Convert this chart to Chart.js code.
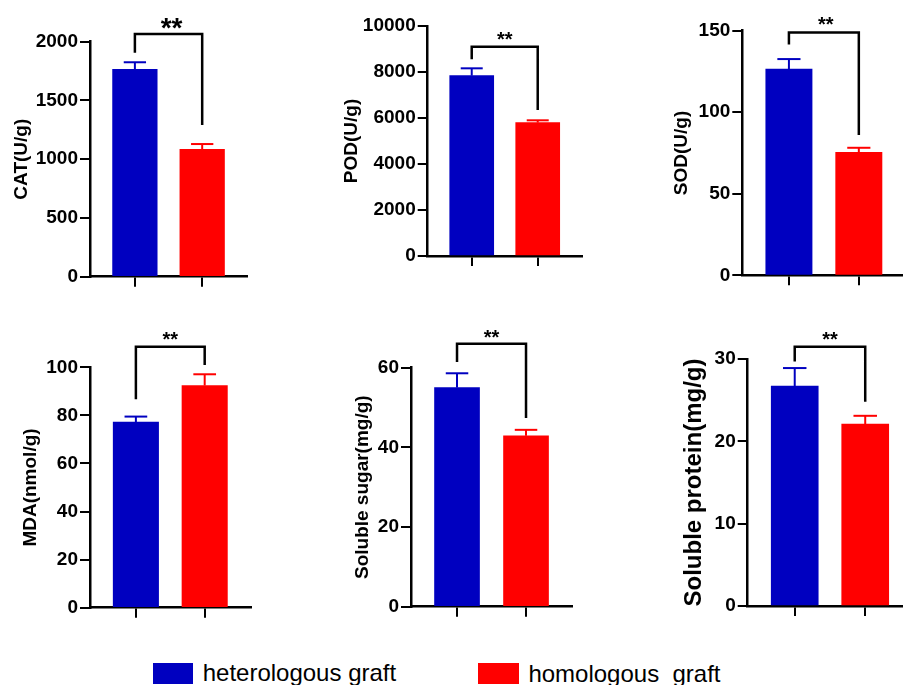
<!DOCTYPE html>
<html><head><meta charset="utf-8">
<script src="https://cdn.jsdelivr.net/npm/chart.js@4.4.1/dist/chart.umd.min.js"></script>
<style>
html,body{margin:0;padding:0;background:#fff;width:903px;height:685px;overflow:hidden;position:relative;font-family:"Liberation Sans",Arial,sans-serif}
canvas{position:absolute}
.sw{position:absolute}
.lt{position:absolute;font-size:24px;line-height:24px;color:#000;white-space:pre}
</style></head><body>
<script>
// ---- data ----
const categories = ['heterologous graft', 'homologous  graft'];
const panelTitles = ['CAT(U/g)', 'POD(U/g)', 'SOD(U/g)', 'MDA(nmol/g)', 'Soluble sugar(mg/g)', 'Soluble protein(mg/g)'];
const catValues = [1765, 1084];
const catErrors = [60, 45];
const podValues = [7840, 5800];
const podErrors = [320, 100];
const sodValues = [126.5, 75.4];
const sodErrors = [6.1, 2.8];
const mdaValues = [77.2, 92.4];
const mdaErrors = [2.3, 4.7];
const sugarValues = [55.0, 42.9];
const sugarErrors = [3.6, 1.5];
const proteinValues = [26.7, 22.1];
const proteinErrors = [2.2, 1.0];
const yMaxes = [2000, 10000, 150, 100, 60, 30];
const yTickSteps = [500, 2000, 50, 20, 20, 10];
const sigLabels = ['**', '**', '**', '**', '**', '**'];
const bracketTops = [2066, 9100, 148.9, 108.6, 66, 31.5];
const bracketLegEnds = [[1906, 1291], [8552, 6348], [141.6, 86], [86.7, 101], [61.4, 47.4], [29.7, 24.8]];

const seriesValues = [catValues, podValues, sodValues, mdaValues, sugarValues, proteinValues];
const seriesErrors = [catErrors, podErrors, sodErrors, mdaErrors, sugarErrors, proteinErrors];

// ---- styles / layout ----
const colors = ['#0000C0', '#FF0000'];
const FONT = '"Liberation Sans", Arial, sans-serif';
const layout = [
  {L:0,   T:0,   W:260, H:300, axisX:90,    top:41.7,  bottom:276.7, unit:67.3, bar:44.6, titleC:21.7,  titleSize:19, starSize:28, starGap:12, starDx:3},
  {L:300, T:0,   W:290, H:300, axisX:427.7, top:26,    bottom:256,   unit:66,   bar:44,   titleC:352,   titleSize:19, starSize:20, starGap:12, starDx:0},
  {L:600, T:0,   W:320, H:300, axisX:742.3, top:30.7,  bottom:275.3, unit:69.9, bar:46.3, titleC:681.7, titleSize:19, starSize:20, starGap:12.5, starDx:2},
  {L:0,   T:310, W:260, H:320, axisX:90,    top:367.3, bottom:607.7, unit:68.8, bar:45.4, titleC:30.5,  titleSize:19, starSize:20, starGap:12, starDx:0},
  {L:300, T:310, W:290, H:320, axisX:411,   top:367.7, bottom:606.7, unit:69,   bar:45,   titleC:363,   titleSize:19, starSize:20, starGap:10.5, starDx:0},
  {L:600, T:310, W:320, H:320, axisX:747.7, top:359,   bottom:606,   unit:70.5, bar:47,   titleC:694.5, titleSize:24, starSize:20, starGap:12, starDx:0}
];
const X_MIN = -0.667, X_MAX = 1.667, X_AXIS_H = 15;

const overlay = {
  id: 'overlay',
  afterDatasetsDraw(chart, args, o) {
    const {ctx} = chart; const x = chart.scales.x, y = chart.scales.y;
    const k = o.k, lay = layout[k];
    ctx.save();
    seriesValues[k].forEach((v, i) => {
      const px = x.getPixelForValue(i);
      const y0 = y.getPixelForValue(v), y1 = y.getPixelForValue(v + seriesErrors[k][i]);
      ctx.strokeStyle = colors[i];
      ctx.lineWidth = 2;
      ctx.beginPath(); ctx.moveTo(px, y0); ctx.lineTo(px, y1); ctx.stroke();
      const hw = lay.bar / 4;
      ctx.beginPath(); ctx.moveTo(px - hw, y1); ctx.lineTo(px + hw, y1); ctx.stroke();
    });
    const xl = x.getPixelForValue(0), xr = x.getPixelForValue(1);
    const yt = y.getPixelForValue(bracketTops[k]);
    ctx.strokeStyle = '#000'; ctx.lineWidth = 2.5; ctx.lineJoin = 'miter'; ctx.lineCap = 'butt';
    ctx.beginPath();
    ctx.moveTo(xl, y.getPixelForValue(bracketLegEnds[k][0]));
    ctx.lineTo(xl, yt); ctx.lineTo(xr, yt);
    ctx.lineTo(xr, y.getPixelForValue(bracketLegEnds[k][1]));
    ctx.stroke();
    ctx.fillStyle = '#000';
    ctx.font = 'bold ' + lay.starSize + 'px ' + FONT;
    ctx.textAlign = 'center'; ctx.textBaseline = 'alphabetic';
    ctx.fillText(sigLabels[k], (xl + xr) / 2 + lay.starDx, yt - lay.starGap + 0.55 * lay.starSize);
    ctx.restore();
  }
};

layout.forEach((lay, k) => {
  const cv = document.createElement('canvas');
  cv.width = lay.W; cv.height = lay.H;
  cv.style.left = lay.L + 'px'; cv.style.top = lay.T + 'px';
  cv.style.width = lay.W + 'px'; cv.style.height = lay.H + 'px';
  document.body.appendChild(cv);
  const yW = lay.axisX - lay.L;
  const plotW = (X_MAX - X_MIN) * lay.unit;
  const padRight = lay.W - yW - plotW;
  const padTop = lay.top - lay.T;
  const padBottom = lay.H - (lay.bottom - lay.T) - X_AXIS_H;
  const lineH = lay.titleSize * 1.2;
  new Chart(cv, {
    type: 'bar',
    data: {
      datasets: [{
        data: seriesValues[k].map((v, i) => ({x: i, y: v})),
        backgroundColor: colors,
        borderWidth: 0,
        barThickness: lay.bar
      }]
    },
    options: {
      responsive: false, animation: false, devicePixelRatio: 1,
      layout: {padding: {left: 0, top: padTop, right: padRight, bottom: padBottom}},
      plugins: {legend: {display: false}, tooltip: {enabled: false}, overlay: {k: k}},
      scales: {
        x: {
          type: 'linear', min: X_MIN, max: X_MAX, offset: false,
          afterBuildTicks: s => { s.ticks = [{value: 0}, {value: 1}]; },
          afterFit: s => { s.height = X_AXIS_H; },
          grid: {offset: false, drawOnChartArea: false, drawTicks: true, tickLength: 10, color: '#000', lineWidth: 2},
          border: {display: true, color: '#000', width: 2.5},
          ticks: {callback: () => '', padding: 0}
        },
        y: {
          min: 0, max: yMaxes[k],
          afterFit: s => { s.width = yW; },
          ticks: {stepSize: yTickSteps[k], color: '#000', padding: 2, callback: v => String(v),
                  font: {family: FONT, size: 19, weight: 'bold'}},
          grid: {drawOnChartArea: false, drawTicks: true, tickLength: 10, color: '#000', lineWidth: 2},
          border: {display: true, color: '#000', width: 2.5},
          title: {display: true, text: panelTitles[k], color: '#000',
                  font: {family: FONT, size: lay.titleSize, weight: 'bold', lineHeight: 1.2},
                  padding: {top: (lay.titleC - lay.L) - lineH / 2, bottom: 0}}
        }
      }
    },
    plugins: [overlay]
  });
});

// ---- legend ----
const legendPos = [{sx:152.7, sy:663.3, sw:40.6, sh:21, tx:202.7, ty:660.7}, {sx:477.7, sy:663.3, sw:41.3, sh:21, tx:528.4, ty:661.7}];
categories.forEach((c, i) => {
  const p = legendPos[i];
  const s = document.createElement('div'); s.className = 'sw';
  s.style.left = p.sx + 'px'; s.style.top = p.sy + 'px'; s.style.width = p.sw + 'px'; s.style.height = p.sh + 'px';
  s.style.background = colors[i];
  document.body.appendChild(s);
  const t = document.createElement('div'); t.className = 'lt';
  t.style.left = p.tx + 'px'; t.style.top = p.ty + 'px'; t.textContent = c;
  document.body.appendChild(t);
});
</script>
</body></html>
